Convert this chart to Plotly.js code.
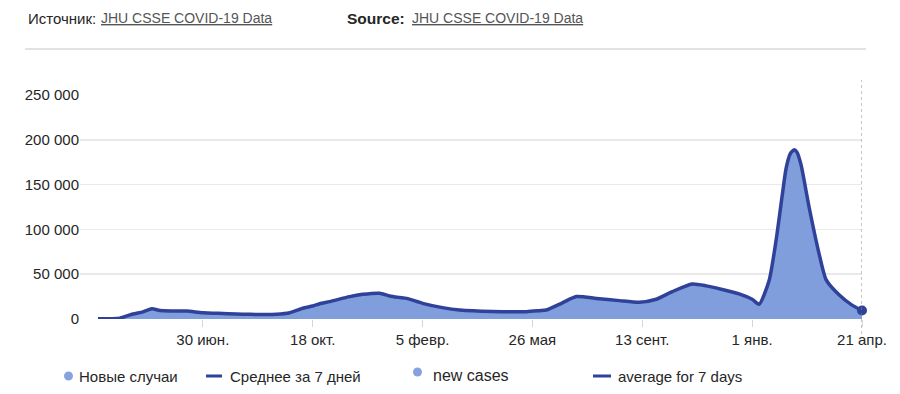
<!DOCTYPE html>
<html>
<head>
<meta charset="utf-8">
<script src="https://cdn.plot.ly/plotly-3.0.1.min.js"></script>
<style>
  html, body { margin: 0; padding: 0; background: #fff; }
  #chart { width: 900px; height: 394px; }
</style>
</head>
<body>
<div id="chart"></div>
<script>
// ---- Data (7-day average of new cases) ----
const dates = [
  '2020-03-17','2020-04-08','2020-04-21','2020-05-01','2020-05-10','2020-05-18','2020-05-31','2020-06-14',
  '2020-06-30','2020-07-20','2020-08-16','2020-09-12','2020-09-25','2020-10-08','2020-10-18','2020-10-25',
  '2020-11-04','2020-11-24','2020-12-07','2020-12-24','2021-01-03','2021-01-13','2021-01-20','2021-02-05',
  '2021-02-25','2021-03-14','2021-04-16','2021-05-20','2021-06-02','2021-06-09','2021-06-25','2021-07-09',
  '2021-07-29','2021-08-21','2021-09-10','2021-09-27','2021-10-13','2021-11-02','2021-11-16','2021-12-02',
  '2021-12-19','2022-01-01','2022-01-08','2022-01-18','2022-01-25','2022-01-31','2022-02-04','2022-02-08',
  '2022-02-12','2022-02-15','2022-02-19','2022-02-27','2022-03-09','2022-03-16','2022-03-29','2022-04-11',
  '2022-04-21'
];
const avgCases = [
  200, 1000, 5600, 8000, 11500, 9500, 9000, 8800,
  7000, 6200, 5200, 5300, 7000, 12000, 14500, 17000,
  19400, 25000, 27500, 28700, 25700, 24000, 23000, 17500,
  12700, 10000, 8300, 8200, 9300, 10000, 18000, 25000,
  23000, 20500, 18600, 22000, 30500, 39000, 37000, 33000,
  28000, 22000, 16500, 43000, 88000, 137000, 168000, 184000,
  189000, 186000, 172000, 125000, 73000, 44000, 27000, 15500,
  9500
];
const yTickVals = [0, 50000, 100000, 150000, 200000, 250000];
const yTickText = ['0', '50 000', '100 000', '150 000', '200 000', '250 000'];
const xTickVals = ['2020-06-30','2020-10-18','2021-02-05','2021-05-26','2021-09-13','2022-01-01','2022-04-21'];
const xTickText = ['30 июн.','18 окт.','5 февр.','26 мая','13 сент.','1 янв.','21 апр.'];
const legendLabels = ['Новые случаи', 'Среднее за 7 дней', 'new cases', 'average for 7 days'];
const sourceLabelRu = 'Источник:';
const sourceLabelEn = 'Source:';
const sourceName = 'JHU CSSE COVID-19 Data';

// ---- Layout helpers (pixel -> paper) ----
const L = 80, R = 862, T = 95, B = 319;
const px = x => (x - L) / (R - L);
const py = y => (B - y) / (B - T);

const FILL = '#7f9edb';
const LINE = '#2f4199';
const FONT = 'Liberation Sans, Arial, sans-serif';
const TXT = '#262626';

const lastIdx = dates.length - 1;

const traces = [
  {
    x: dates, y: avgCases, name: legendLabels[0], type: 'scatter', mode: 'lines',
    line: { width: 0, shape: 'spline', smoothing: 0.6 }, fill: 'tozeroy', fillcolor: FILL,
    showlegend: false, hoverinfo: 'skip'
  },
  {
    x: dates, y: avgCases, name: legendLabels[1], type: 'scatter', mode: 'lines',
    line: { width: 3.5, color: LINE, shape: 'spline', smoothing: 0.6 },
    cliponaxis: false, showlegend: false
  },
  {
    x: [dates[lastIdx]], y: [avgCases[lastIdx]], type: 'scatter', mode: 'markers',
    marker: { size: 10, color: LINE }, cliponaxis: false, showlegend: false
  }
];

const shapes = [
  { type: 'line', xref: 'paper', yref: 'paper', x0: px(25), x1: px(866), y0: py(49), y1: py(49),
    line: { color: '#e2e2e2', width: 2 } },
  { type: 'line', xref: 'x', yref: 'paper', x0: dates[lastIdx], x1: dates[lastIdx], y0: py(334), y1: py(80),
    line: { color: '#8a8a8a', width: 1, dash: 'dot' } },
  { type: 'circle', xref: 'paper', yref: 'paper', x0: px(64), x1: px(73), y0: py(380.5), y1: py(371.5),
    fillcolor: '#86a3dd', line: { width: 0 } },
  { type: 'line', xref: 'paper', yref: 'paper', x0: px(206), x1: px(222), y0: py(376), y1: py(376),
    line: { color: LINE, width: 3 } },
  { type: 'circle', xref: 'paper', yref: 'paper', x0: px(413), x1: px(422), y0: py(376.5), y1: py(367.5),
    fillcolor: '#86a3dd', line: { width: 0 } },
  { type: 'line', xref: 'paper', yref: 'paper', x0: px(593), x1: px(611), y0: py(376), y1: py(376),
    line: { color: LINE, width: 3 } }
];

const ann = (x, y, text, size, color) => ({
  xref: 'paper', yref: 'paper', x: px(x), y: py(y), xanchor: 'left', yanchor: 'middle',
  text: text, showarrow: false, font: { family: FONT, size: size, color: color }
});
const ul = t => '<span style="text-decoration:underline">' + t + '</span>';

const annotations = [
  ann(26, 18, sourceLabelRu, 15, TXT),
  ann(99, 18, ul(sourceName), 14, '#555'),
  ann(345, 18, '<b>' + sourceLabelEn + '</b>', 15.5, TXT),
  ann(410, 18, ul(sourceName), 14, '#555'),
  ann(77, 376, legendLabels[0], 15, TXT),
  ann(228, 376, legendLabels[1], 15, TXT),
  ann(431, 375, legendLabels[2], 16, TXT),
  ann(616, 376, legendLabels[3], 15, TXT)
];

const layout = {
  width: 900, height: 394,
  margin: { l: L, r: 900 - R, t: T, b: 394 - B },
  paper_bgcolor: '#fff', plot_bgcolor: '#fff',
  font: { family: FONT, size: 15, color: TXT },
  showlegend: false,
  xaxis: {
    type: 'date', range: ['2020-02-28', '2022-04-21'],
    tickvals: xTickVals, ticktext: xTickText,
    showgrid: false, zeroline: false, showline: false,
    ticks: 'outside', ticklen: 7, tickcolor: '#d6d6d6', tickwidth: 1,
    tickfont: { family: FONT, size: 15, color: TXT }
  },
  yaxis: {
    range: [0, 250000], tickvals: yTickVals, ticktext: yTickText,
    showgrid: true, gridcolor: '#e9e9e9', gridwidth: 1.5,
    zeroline: false, showline: false, ticks: '',
    tickfont: { family: FONT, size: 15, color: TXT }
  },
  shapes: shapes,
  annotations: annotations
};

Plotly.newPlot('chart', traces, layout, { displayModeBar: false, staticPlot: true });
</script>
</body>
</html>
